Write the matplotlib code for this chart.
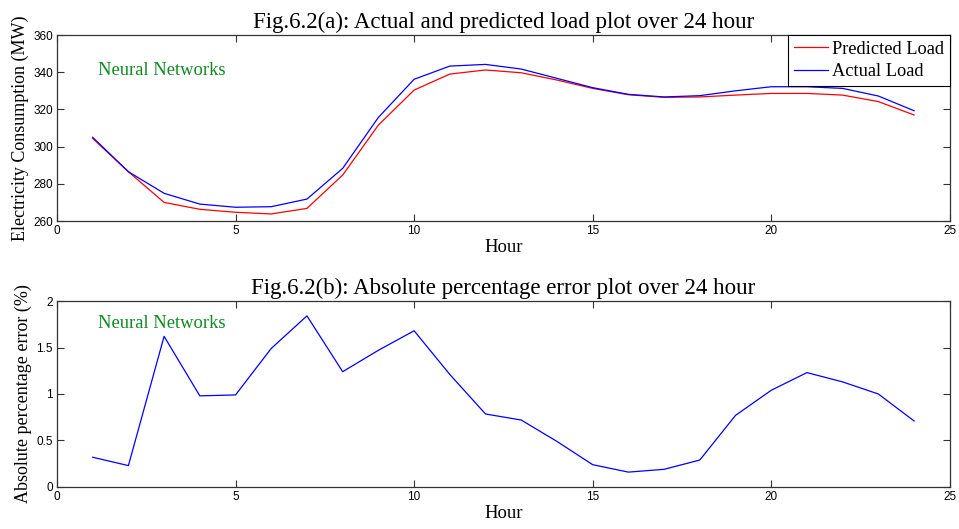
import matplotlib
matplotlib.use("Agg")
import matplotlib.pyplot as plt

hours = list(range(1, 25))

predicted_load = [304.4, 286.5, 270.0, 266.3, 264.7, 263.8, 266.8, 284.7, 311.6, 330.4,
                  339.0, 341.2, 339.7, 335.8, 331.3, 327.9, 326.5, 326.7, 327.7, 328.6,
                  328.6, 327.7, 324.2, 317.0]
actual_load = [305.0, 286.5, 274.9, 269.1, 267.4, 267.7, 271.8, 288.3, 315.7, 336.2,
               343.3, 344.2, 341.7, 336.7, 331.7, 328.1, 326.7, 327.4, 330.0, 332.2,
               332.2, 331.3, 327.2, 319.3]
abs_pct_error = [0.32, 0.23, 1.62, 0.98, 0.99, 1.49, 1.84, 1.24, 1.47, 1.68,
                 1.21, 0.785, 0.72, 0.49, 0.24, 0.16, 0.19, 0.29, 0.77, 1.04,
                 1.23, 1.13, 1.00, 0.71]

serif = ["Liberation Serif", "DejaVu Serif"]
sans = ["Liberation Sans", "DejaVu Sans"]
green = "#108a20"


def style_axes(ax):
    ax.tick_params(direction="in", top=True, right=True, length=5, width=0.8,
                   labelsize=8.5, colors="#333333", labelcolor="black", pad=3)
    for lbl in ax.get_xticklabels() + ax.get_yticklabels():
        lbl.set_fontfamily(sans)
    for s in ax.spines.values():
        s.set_color("#333333")
        s.set_linewidth(0.9)


fig = plt.figure(figsize=(9.59, 5.29), dpi=100)

ax1 = fig.add_axes([0.0594, 0.5822, 0.931, 0.3516])
ax1.plot(hours, predicted_load, color="red", lw=0.9, label="Predicted Load")
ax1.plot(hours, actual_load, color="blue", lw=0.9, label="Actual Load")
ax1.set_xlim(0, 25)
ax1.set_ylim(260, 360)
ax1.set_xticks([0, 5, 10, 15, 20, 25])
ax1.set_yticks([260, 280, 300, 320, 340, 360])
style_axes(ax1)
ax1.set_title("Fig.6.2(a): Actual and predicted load plot over 24 hour",
              family=serif, fontsize=16.5, pad=5)
ax1.set_xlabel("Hour", family=serif, fontsize=13.5, labelpad=1)
ax1.set_ylabel("Electricity Consumption (MW)", family=serif, fontsize=13, labelpad=3)
ax1.text(1.15, 341, "Neural Networks", color=green, family=serif, fontsize=13.3,
         va="center", ha="left")
leg = ax1.legend(loc="upper right", prop={"family": serif, "size": 13.2},
                 fancybox=False, framealpha=1, edgecolor="black",
                 borderpad=0.3, handlelength=1.85, handletextpad=0.25,
                 labelspacing=0.3, borderaxespad=0.0)
leg.get_frame().set_linewidth(0.8)

ax2 = fig.add_axes([0.0594, 0.0794, 0.931, 0.3516])
ax2.plot(hours, abs_pct_error, color="blue", lw=0.9)
ax2.set_xlim(0, 25)
ax2.set_ylim(0, 2)
ax2.set_xticks([0, 5, 10, 15, 20, 25])
ax2.set_yticks([0, 0.5, 1, 1.5, 2])
ax2.set_yticklabels(["0", "0.5", "1", "1.5", "2"])
style_axes(ax2)
ax2.set_title("Fig.6.2(b): Absolute percentage error plot over 24 hour",
              family=serif, fontsize=16.5, pad=5)
ax2.set_xlabel("Hour", family=serif, fontsize=13.5, labelpad=1)
ax2.set_ylabel("Absolute percentage error (%)", family=serif, fontsize=13, labelpad=3)
ax2.text(1.15, 1.76, "Neural Networks", color=green, family=serif, fontsize=13.3,
         va="center", ha="left")

fig.savefig("out.png", dpi=100)
